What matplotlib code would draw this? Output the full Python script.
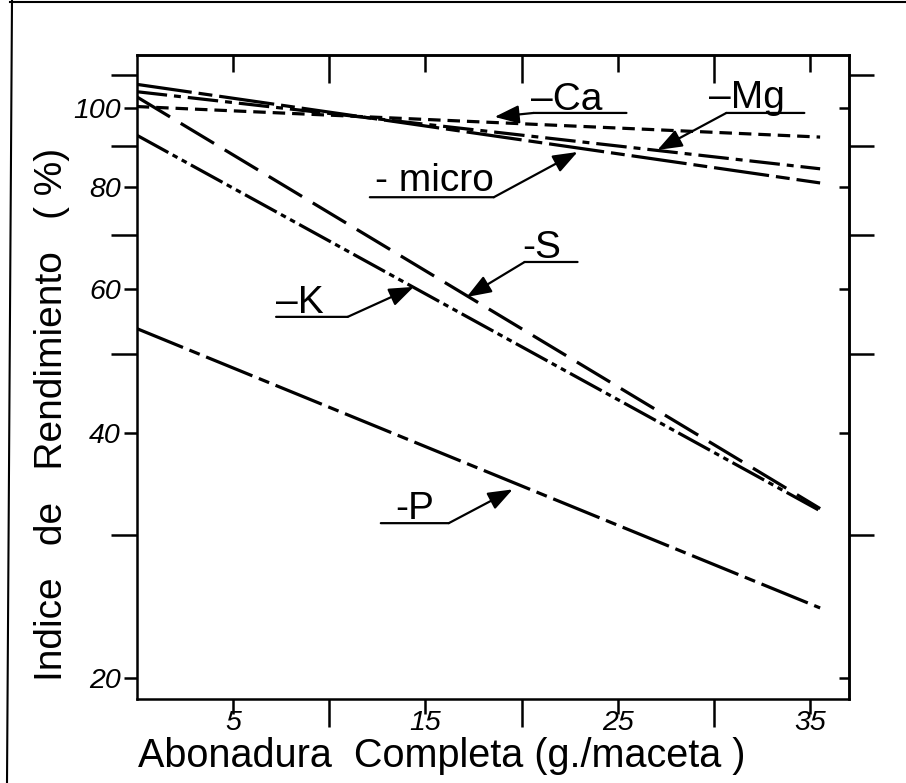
import matplotlib
matplotlib.use('Agg')
import matplotlib.pyplot as plt
from matplotlib.lines import Line2D
from matplotlib.ticker import FixedLocator, NullFormatter
from matplotlib import font_manager as fm

plt.rcParams['lines.scale_dashes'] = False
plt.rcParams['font.family'] = ['Liberation Sans', 'DejaVu Sans']

# ---------------- data ----------------
dose = [0, 35.5]                 # g/maceta
ca = [100.5, 92.2]
mg = [104.8, 84.3]
micro = [107.0, 81.0]
s_val = [103.3, 32.3]
k_val = [92.7, 32.1]
p_val = [53.7, 24.4]

x_major = [5, 15, 25, 35]
x_minor = [10, 20, 30]
y_major = [20, 40, 60, 80, 100]
y_minor = [30, 50, 70, 90, 110]

names = {f.name for f in fm.fontManager.ttflist}
NARROW = 'Liberation Sans Narrow' in names
narrow_fam = ['Liberation Sans Narrow', 'Liberation Sans', 'DejaVu Sans'] if NARROW else ['Liberation Sans', 'DejaVu Sans']

fig = plt.figure(figsize=(9.06, 7.83), dpi=100)
fig.patch.set_facecolor('white')
ax = fig.add_axes([136.7 / 906, 1 - 699 / 783, (849 - 136.7) / 906, (699 - 55) / 783])
ax.set_yscale('log')
ax.set_xlim(0, 37)
ax.set_ylim(18.87, 116.24)

LW = 2.3
ax.plot(dose, ca, color='k', lw=LW, dashes=(9, 5))
ax.plot(dose, mg, color='k', lw=LW, dashes=(22, 5, 5, 5))
ax.plot(dose, micro, color='k', lw=LW, dashes=(40, 5, 10, 5))
ax.plot(dose, s_val, color='k', lw=LW, dashes=(28, 9))
ax.plot(dose, k_val, color='k', lw=LW, dashes=(26, 3.5, 4, 3.5, 4, 3.5))
ax.plot(dose, p_val, color='k', lw=LW, dashes=(36, 5, 8, 5))

# ---------------- ticks ----------------
SPW = 1.8
for sp in ax.spines.values():
    sp.set_linewidth(SPW)

ax.set_xticks(x_major, labels=[str(v) for v in x_major])
ax.set_xticks(x_minor, minor=True)
ax.set_yticks(y_major, labels=[str(v) for v in y_major])
ax.yaxis.set_minor_locator(FixedLocator(y_minor))
ax.yaxis.set_minor_formatter(NullFormatter())
ax.xaxis.set_minor_formatter(NullFormatter())

tick_fs = 23 if NARROW else 20.5
ax.tick_params(axis='x', which='major', direction='out', length=11, width=SPW, pad=-3, top=False)
ax.tick_params(axis='x', which='minor', direction='out', length=20, width=SPW, top=False)
ax.tick_params(axis='y', which='major', direction='out', length=9.4, width=SPW, pad=2, right=False)
ax.tick_params(axis='y', which='minor', direction='out', length=18.7, width=SPW, right=False)
for lab in ax.get_xticklabels() + ax.get_yticklabels():
    lab.set_fontstyle('italic')
    lab.set_family(narrow_fam)
    lab.set_fontsize(tick_fs)

secx = ax.secondary_xaxis('top')
secx.set_xticks(x_major)
secx.set_xticks(x_minor, minor=True)
secx.xaxis.set_major_formatter(NullFormatter())
secx.xaxis.set_minor_formatter(NullFormatter())
secx.tick_params(which='major', direction='in', length=12, width=SPW)
secx.tick_params(which='minor', direction='in', length=20, width=SPW)
for sp in secx.spines.values():
    sp.set_linewidth(SPW)

secy = ax.secondary_yaxis('right')
secy.yaxis.set_major_locator(FixedLocator(y_major))
secy.yaxis.set_minor_locator(FixedLocator(y_minor))
secy.yaxis.set_major_formatter(NullFormatter())
secy.yaxis.set_minor_formatter(NullFormatter())
secy.tick_params(which='major', direction='in', length=7, width=SPW)
secy.tick_params(which='minor', direction='out', length=18, width=SPW)
for sp in secy.spines.values():
    sp.set_linewidth(SPW)

# ---------------- axis titles ----------------
fig.text(138 / 906, 1 - 767 / 783, 'Abonadura  Completa (g./maceta )',
         fontsize=28.5, ha='left', va='baseline')
if NARROW:
    fig.text(52 / 906, 1 - 414 / 783, 'Indice   de   Rendimiento   ( %)',
             fontsize=32, family=narrow_fam, rotation=90, ha='center', va='center')
else:
    fig.text(52 / 906, 1 - 414 / 783, 'Indice   de   Rendimiento   ( %)',
             fontsize=28, rotation=90, ha='center', va='center')

# ---------------- labels with arrows ----------------
LFS = 28
ARW = dict(arrowstyle='-|>,head_length=0.75,head_width=0.28', lw=1.6, color='k',
           shrinkA=0, shrinkB=0, mutation_scale=20)
ULN = dict(arrowstyle='-', lw=1.6, color='k', shrinkA=0, shrinkB=0)

def tag(text, txy, ux1, ux2, uy, start, tip):
    ax.text(txy[0], txy[1], text, fontsize=LFS, ha='left', va='baseline')
    ax.annotate('', xy=(ux2, uy), xytext=(ux1, uy), arrowprops=ULN)
    ax.annotate('', xy=tip, xytext=start, arrowprops=ARW)

tag('\u2013Ca', (20.46, 99.5), 20.62, 25.44, 98.7, (20.62, 98.7), (18.59, 97.6))
tag('\u2013Mg', (29.75, 100.0), 30.63, 34.68, 98.7, (30.63, 98.7), (27.05, 88.9))
tag('- micro', (12.37, 79.1), 12.11, 18.55, 77.8, (18.55, 77.8), (22.9, 88.4))
tag('-S', (20.05, 65.5), 20.15, 22.9, 64.8, (20.15, 64.8), (17.14, 58.7))
tag('\u2013K', (7.24, 56.1), 7.24, 10.96, 55.5, (10.96, 55.5), (14.39, 60.4))
tag('-P', (13.45, 31.35), 12.68, 16.21, 31.0, (16.21, 31.0), (19.53, 34.1))

# ---------------- scanned page frame ----------------
fig.add_artist(Line2D([12 / 906, 7 / 906], [1, 0], transform=fig.transFigure, color='k', lw=1.5))
fig.add_artist(Line2D([10 / 906, 1], [1 - 2 / 783, 1 - 2 / 783], transform=fig.transFigure, color='k', lw=1.5))

fig.savefig('out.png', dpi=100, facecolor='white')
